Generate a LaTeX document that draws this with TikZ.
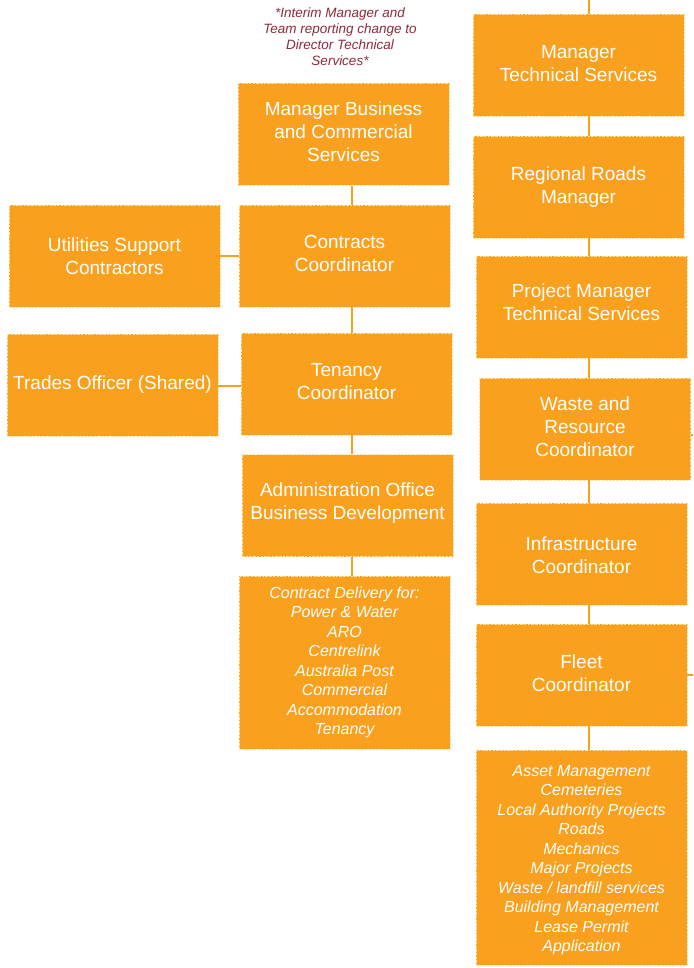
\documentclass[tikz,border=0pt]{standalone}
\usepackage{fontspec}
\setmainfont{Liberation Sans}
\definecolor{boxorange}{HTML}{F9A11E}
\definecolor{boxedge}{HTML}{FDE2A6}
\definecolor{notered}{HTML}{8E2B3A}
\tikzset{
  orgbox/.style={rectangle, fill=boxorange, draw=boxedge, dash pattern=on 2.5pt off 1.2pt,
    line width=0.8pt, minimum width=211pt, minimum height=102pt, inner sep=2pt},
  boxtext/.style={text=white, align=center, inner sep=0pt, font=\fontsize{19}{23}\selectfont},
  listtext/.style={boxtext, font=\fontsize{16}{19.5}\selectfont\itshape},
  conn/.style={draw=boxorange, line width=2.5pt},
  notetext/.style={text=notered, align=center, font=\fontsize{13.5}{16}\selectfont\itshape}
}
\begin{document}
\begin{tikzpicture}[x=1pt,y=1pt]
\useasboundingbox[fill=white] (0,0) rectangle (693,-968);
\coordinate (mx) at (352,0);
\coordinate (rx) at (589,0);
\coordinate (top) at (589,0);
\coordinate (wend) at (693,-435);
\coordinate (fend) at (693,-675);
\coordinate (ty) at (0,-386);
% note
\node[notetext] (note) at (340,-37) {*Interim Manager and\\Team reporting change to\\Director Technical\\Services*};
% middle column
\node[orgbox, label={[boxtext,yshift=3pt]center:{Manager Business\\and Commercial\\Services}}] (mbcs) at (343.5,-134.5) {};
\node[orgbox, label={[boxtext,yshift=3pt]center:{Contracts\\Coordinator}}] (cc) at (344.5,-256) {};
\node[orgbox, label={[boxtext,yshift=2.5pt]center:{Tenancy\\Coordinator}}] (tc) at (346.5,-384) {};
\node[orgbox, label={[boxtext,yshift=2pt]center:{Administration Office\\Business Development}}] (aobd) at (347.5,-505.5) {};
\node[orgbox, minimum height=173pt, label={[listtext]center:{Contract Delivery for:\\Power \& Water\\ARO\\Centrelink\\Australia Post\\Commercial\\Accommodation\\Tenancy}}] (cd) at (344.5,-662.5) {};
% left column
\node[orgbox, label={[boxtext]center:{Utilities Support\\Contractors}}] (usc) at (114.5,-256) {};
\node[orgbox, label={[boxtext]center:{Trades Officer (Shared)}}] (to) at (112.5,-385) {};
% right column
\node[orgbox, label={[boxtext,yshift=1pt]center:{Manager\\Technical Services}}] (mts) at (578.5,-65) {};
\node[orgbox, label={[boxtext]center:{Regional Roads\\Manager}}] (rrm) at (578.5,-187) {};
\node[orgbox, label={[boxtext,yshift=5pt]center:{Project Manager\\Technical Services}}] (pmts) at (581.5,-307) {};
\node[orgbox, label={[boxtext,yshift=2.5pt]center:{Waste and\\Resource\\Coordinator}}] (wrc) at (585,-429) {};
\node[orgbox, label={[boxtext,yshift=-1pt]center:{Infrastructure\\Coordinator}}] (ic) at (581.5,-554) {};
\node[orgbox, label={[boxtext,yshift=2pt]center:{Fleet\\Coordinator}}] (fc) at (581.5,-675) {};
\node[orgbox, minimum height=215pt, label={[listtext,yshift=-2.5pt]center:{Asset Management\\Cemeteries\\Local Authority Projects\\Roads\\Mechanics\\Major Projects\\Waste / landfill services\\Building Management\\Lease Permit\\Application}}] (am) at (581.5,-857.5) {};
% connectors middle
\draw[conn] (mbcs.south -| mx) -- (cc.north -| mx);
\draw[conn] (cc.south -| mx) -- (tc.north -| mx);
\draw[conn] (tc.south -| mx) -- (aobd.north -| mx);
\draw[conn] (aobd.south -| mx) -- (cd.north -| mx);
% connectors left
\draw[conn] (usc.east) -- (cc.west |- usc.east);
\draw[conn] (to.east |- ty) -- (tc.west |- ty);
% connectors right
\draw[conn] (top) -- (mts.north -| rx);
\draw[conn] (mts.south -| rx) -- (rrm.north -| rx);
\draw[conn] (rrm.south -| rx) -- (pmts.north -| rx);
\draw[conn] (pmts.south -| rx) -- (wrc.north -| rx);
\draw[conn] (wrc.south -| rx) -- (ic.north -| rx);
\draw[conn] (ic.south -| rx) -- (fc.north -| rx);
\draw[conn] (fc.south -| rx) -- (am.north -| rx);
\draw[draw=boxorange, line width=1.5pt] (wrc.east |- wend) -- (wend);
\draw[draw=boxorange, line width=1.5pt] (fc.east |- fend) -- (fend);
\end{tikzpicture}
\end{document}
